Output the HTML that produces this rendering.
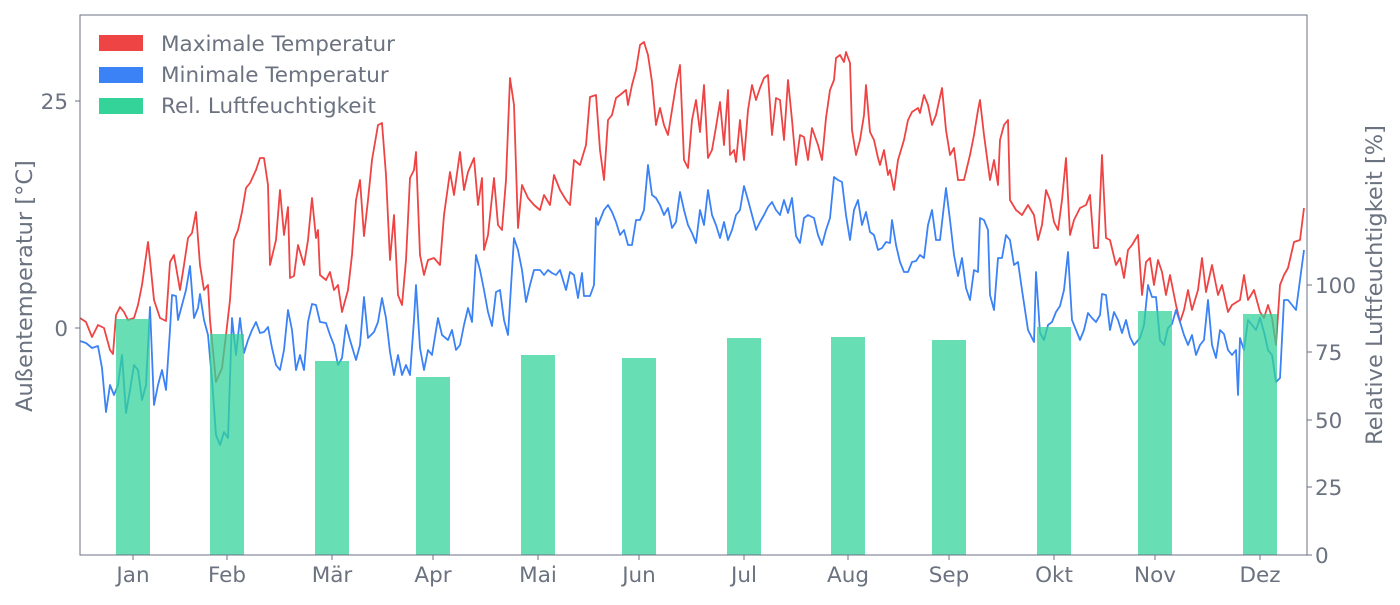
<!DOCTYPE html>
<html><head><meta charset="utf-8"><style>
body{margin:0;background:#fff;}
text{font-family:"DejaVu Sans","Liberation Sans",sans-serif;fill:#6b7280;}
</style></head><body>
<svg width="1400" height="600" xmlns="http://www.w3.org/2000/svg">
<rect width="1400" height="600" fill="#fff"/>
<g fill="none" stroke-width="1.8" stroke-linejoin="round">
<polyline stroke="#ef4444" points="80,318 86,322 92,337 98,325 104,328 110,350 113,354 116,315 120,307 124,312 128,320 134,318 138,305 142,285 148,242 150,260 154,300 160,318 166,321 170,262 174,255 180,290 184,265 188,238 192,233 196,212 200,265 204,290 208,285 210,320 216,382 222,368 226,335 230,300 234,240 238,230 242,212 246,188 250,183 256,170 260,158 264,158 268,185 270,265 276,240 280,190 284,235 288,207 290,278 294,276 298,245 304,265 308,240 312,198 316,238 318,230 320,275 326,280 330,272 334,290 338,285 342,312 348,290 352,255 356,200 360,180 364,236 368,200 372,160 378,125 382,123 386,175 390,260 394,215 398,295 402,305 406,260 410,178 414,170 416,152 420,255 424,275 428,260 434,258 440,265 444,215 450,172 454,195 460,152 464,190 468,172 474,158 478,205 482,178 484,250 488,235 494,178 498,225 502,230 506,180 510,78 514,105 518,228 522,185 528,198 534,205 540,210 544,195 550,205 554,175 560,190 566,200 570,205 574,160 580,165 586,145 590,97 596,95 600,150 604,180 608,120 612,115 616,98 620,95 626,90 628,105 632,85 636,70 640,45 644,42 648,55 652,82 656,125 660,108 664,125 668,135 672,110 676,85 680,65 684,160 688,168 692,120 696,100 700,132 704,85 708,158 712,150 716,127 720,102 724,145 728,90 730,155 734,150 736,162 740,120 744,160 748,110 752,85 756,100 760,88 764,78 768,75 772,135 776,98 780,100 784,140 788,80 792,120 796,165 800,135 804,137 808,160 812,128 818,145 822,160 826,118 830,90 834,80 836,58 840,55 844,62 846,52 850,63 852,130 856,155 860,140 864,115 866,85 870,132 874,140 878,158 880,165 884,150 888,175 890,170 894,190 898,160 904,140 908,120 912,112 918,108 920,113 924,95 928,105 932,125 936,115 942,88 946,130 950,155 954,148 958,180 964,180 970,155 974,135 978,110 980,100 984,135 990,180 994,160 998,185 1000,140 1004,125 1008,120 1010,200 1016,210 1022,215 1028,205 1034,215 1038,240 1042,225 1046,190 1050,200 1054,222 1058,230 1062,200 1066,158 1070,235 1074,220 1080,208 1086,205 1090,195 1094,248 1098,248 1102,155 1106,238 1110,240 1116,265 1120,258 1124,278 1128,250 1132,245 1138,235 1142,295 1146,262 1150,258 1154,285 1158,260 1162,272 1166,295 1170,275 1176,305 1180,322 1184,310 1188,290 1192,310 1198,290 1202,258 1206,292 1212,265 1218,295 1222,285 1228,312 1232,305 1240,300 1244,275 1248,300 1254,290 1260,312 1264,318 1268,305 1272,318 1276,345 1280,285 1284,275 1288,268 1294,242 1300,240 1304,208"/>
<polyline stroke="#3b82f6" points="80,341 86,343 92,348 98,346 102,368 106,412 110,385 114,395 118,385 122,355 126,413 130,390 134,365 138,370 142,400 146,385 150,307 154,405 158,385 162,370 166,390 170,330 172,295 176,296 178,320 182,305 186,290 190,266 194,318 198,308 200,294 204,320 208,335 212,380 216,435 220,445 224,432 228,438 232,318 236,355 240,318 244,353 248,340 252,330 256,322 260,333 264,332 268,327 272,348 276,365 280,370 284,350 288,310 292,330 296,370 300,355 304,370 308,322 312,304 316,305 320,322 326,323 330,335 334,345 338,365 342,358 346,325 350,340 356,360 360,345 364,297 368,338 374,332 378,322 382,298 386,318 390,352 394,375 398,355 402,375 406,365 410,375 414,320 416,285 420,348 424,370 428,350 432,355 438,318 442,335 448,340 452,330 456,350 460,345 464,325 468,308 472,322 476,255 480,270 484,290 488,312 492,326 496,292 500,290 504,320 508,335 514,238 518,250 522,270 526,302 530,285 534,270 540,270 544,275 548,270 552,273 556,275 560,270 566,290 570,272 574,275 578,298 582,273 584,296 590,296 594,285 596,218 598,225 604,210 608,205 612,212 616,222 620,235 624,230 628,245 632,245 636,220 640,220 644,210 648,165 652,195 656,198 660,205 664,215 668,208 672,228 676,222 680,192 684,210 688,225 692,233 696,243 700,210 704,225 708,190 712,215 716,225 720,238 724,222 728,240 732,230 736,215 740,210 744,186 748,200 752,215 756,230 760,222 764,215 768,207 772,202 776,210 780,215 784,200 788,213 792,198 796,236 800,243 804,218 808,215 814,218 818,235 822,245 826,230 830,218 834,177 838,180 842,182 846,215 850,240 854,210 858,200 862,225 866,212 870,232 874,235 878,250 882,248 886,242 890,243 892,220 896,245 900,262 904,272 908,272 912,262 916,261 920,255 924,258 928,225 932,210 936,240 940,240 946,188 950,220 954,255 958,276 962,258 966,288 970,300 974,270 978,272 980,218 984,220 988,230 990,295 994,310 998,258 1002,258 1006,235 1010,240 1014,265 1018,262 1022,290 1028,330 1034,342 1036,272 1040,333 1044,340 1048,325 1052,322 1056,312 1060,306 1064,290 1068,252 1072,320 1076,330 1080,340 1084,330 1088,313 1092,318 1096,322 1100,315 1102,294 1106,295 1110,330 1114,312 1118,320 1122,333 1126,320 1130,337 1134,345 1140,338 1144,325 1148,285 1152,297 1156,297 1160,340 1164,345 1168,328 1172,324 1176,310 1180,322 1184,335 1188,345 1192,335 1196,355 1200,345 1204,340 1208,300 1212,345 1216,358 1220,330 1224,334 1228,350 1232,355 1236,350 1238,395 1240,338 1244,350 1248,320 1252,325 1256,330 1260,318 1264,332 1268,350 1272,355 1276,382 1280,378 1284,300 1288,300 1292,305 1296,310 1300,280 1304,250"/>
</g>
<g fill="#34d399" fill-opacity="0.75">
<rect x="116" y="319" width="34" height="236"/>
<rect x="210" y="334" width="34" height="221"/>
<rect x="315" y="361" width="34" height="194"/>
<rect x="416" y="377" width="34" height="178"/>
<rect x="521" y="355" width="34" height="200"/>
<rect x="622" y="358" width="34" height="197"/>
<rect x="727" y="338" width="34" height="217"/>
<rect x="831" y="337" width="34" height="218"/>
<rect x="932" y="340" width="34" height="215"/>
<rect x="1037" y="327" width="34" height="228"/>
<rect x="1138" y="311" width="34" height="244"/>
<rect x="1243" y="314" width="34" height="241"/>
</g>
<rect x="80" y="15" width="1227" height="540" fill="none" stroke="#6b7280" stroke-width="1"/>
<g stroke="#6b7280" stroke-width="1">
<line x1="75" y1="101" x2="80" y2="101"/><line x1="75" y1="328" x2="80" y2="328"/>
<line x1="1307" y1="555" x2="1312" y2="555"/><line x1="1307" y1="487" x2="1312" y2="487"/>
<line x1="1307" y1="420" x2="1312" y2="420"/><line x1="1307" y1="352" x2="1312" y2="352"/>
<line x1="1307" y1="285" x2="1312" y2="285"/>
<line x1="133" y1="555" x2="133" y2="560"/><line x1="227" y1="555" x2="227" y2="560"/>
<line x1="332" y1="555" x2="332" y2="560"/><line x1="433" y1="555" x2="433" y2="560"/>
<line x1="538" y1="555" x2="538" y2="560"/><line x1="639" y1="555" x2="639" y2="560"/>
<line x1="744" y1="555" x2="744" y2="560"/><line x1="848" y1="555" x2="848" y2="560"/>
<line x1="949" y1="555" x2="949" y2="560"/><line x1="1054" y1="555" x2="1054" y2="560"/>
<line x1="1155" y1="555" x2="1155" y2="560"/><line x1="1260" y1="555" x2="1260" y2="560"/>
</g>
<g font-size="21.5">
<text x="68" y="109" text-anchor="end">25</text>
<text x="68" y="336" text-anchor="end">0</text>
<g text-anchor="start">
<text x="1315" y="563">0</text><text x="1315" y="495">25</text><text x="1315" y="428">50</text>
<text x="1315" y="360">75</text><text x="1315" y="293">100</text>
</g>
<g text-anchor="middle">
<text x="133" y="582">Jan</text><text x="227" y="582">Feb</text><text x="332" y="582">Mär</text>
<text x="433" y="582">Apr</text><text x="538" y="582">Mai</text><text x="639" y="582">Jun</text>
<text x="744" y="582">Jul</text><text x="848" y="582">Aug</text><text x="949" y="582">Sep</text>
<text x="1054" y="582">Okt</text><text x="1155" y="582">Nov</text><text x="1260" y="582">Dez</text>
</g>
</g>
<g font-size="22.5">
<text transform="translate(32,286) rotate(-90)" text-anchor="middle">Außentemperatur [°C]</text>
<text transform="translate(1382,285) rotate(-90)" text-anchor="middle">Relative Luftfeuchtigkeit [%]</text>
</g>
<g font-size="21.5">
<rect x="99" y="35" width="44" height="16" fill="#ef4444"/>
<rect x="99" y="67" width="44" height="16" fill="#3b82f6"/>
<rect x="99" y="98" width="44" height="16" fill="#34d399"/>
<text x="161" y="51">Maximale Temperatur</text>
<text x="161" y="82">Minimale Temperatur</text>
<text x="161" y="113">Rel. Luftfeuchtigkeit</text>
</g>
</svg>
</body></html>
